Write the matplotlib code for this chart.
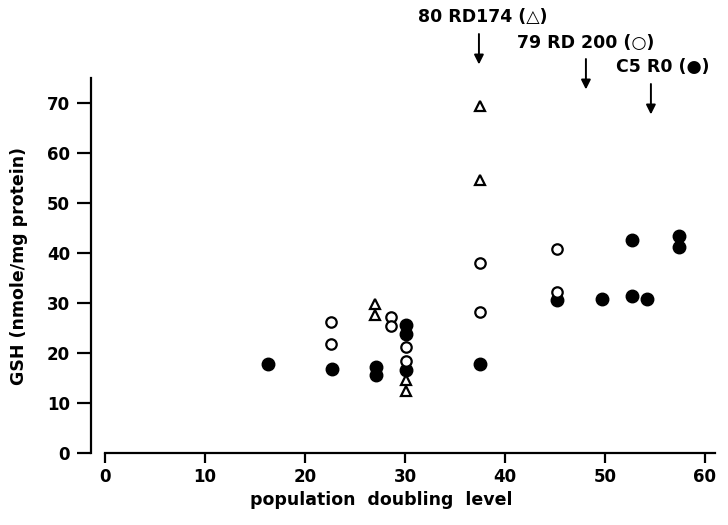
import numpy as np
import matplotlib
matplotlib.use('Agg')
import matplotlib.pyplot as plt

# 데이터
# C5 R0 (채운 원)
c5_x = [16.3, 22.7, 27.1, 27.1, 30.1, 30.1, 30.1, 37.5, 45.2, 49.7, 52.7, 52.7, 54.2, 57.4, 57.4]
c5_y = [17.8, 16.8, 17.2, 15.6, 25.7, 23.8, 16.6, 17.8, 30.6, 30.8, 42.6, 31.4, 30.8, 43.4, 41.2]

# 79 RD 200 (빈 원)
rd200_x = [22.6, 22.6, 28.6, 28.6, 30.1, 30.1, 37.5, 37.5, 45.2, 45.2]
rd200_y = [26.2, 21.8, 27.2, 25.4, 21.2, 18.4, 38.1, 28.3, 40.9, 32.2]

# 80 RD174 (삼각형)
rd174_x = [27.0, 27.0, 30.1, 30.1, 37.5, 37.5]
rd174_y = [29.8, 27.7, 14.7, 12.4, 69.5, 54.6]

tick_x = [0, 10, 20, 30, 40, 50, 60]
tick_y = [0, 10, 20, 30, 40, 50, 60, 70]

# 화살표 라벨: 텍스트, 화살표 x, 끝 y, 텍스트 위치
labels = ['80 RD174 (△)', '79 RD 200 (○)', 'C5 R0 (●)']
arrow_x = [37.4, 48.1, 54.6]
arrow_tip = [77.2, 72.2, 67.2]
text_y = [87.3, 82.1, 77.2]
text_x = [37.8, 48.1, 55.8]

plt.rcParams['font.family'] = ['DejaVu Sans']

fig = plt.figure(figsize=(7.28, 5.25), dpi=100)
ax = fig.add_axes([0.125, 0.137, 0.857, 0.714])

ax.plot(c5_x, c5_y, 'o', color='black', markersize=9, linestyle='none', zorder=3)
ax.plot(rd200_x, rd200_y, 'o', markerfacecolor='white', markeredgecolor='black',
        markeredgewidth=1.6, markersize=7.5, linestyle='none', zorder=3)
ax.plot(rd174_x, rd174_y, '^', markerfacecolor='white', markeredgecolor='black',
        markeredgewidth=1.6, markersize=7, linestyle='none', zorder=3)

ax.set_xlim(-1.4, 61)
ax.set_ylim(0, 75)

for s in ['top', 'right']:
    ax.spines[s].set_visible(False)
ax.spines['bottom'].set_bounds(0, 61)
ax.spines['left'].set_bounds(0, 75)
ax.spines['bottom'].set_linewidth(1.6)
ax.spines['left'].set_linewidth(1.6)

ax.set_xticks(tick_x)
ax.set_yticks(tick_y)
ax.tick_params(axis='x', direction='out', length=7, width=1.6, labelsize=12, pad=4)
ax.tick_params(axis='y', direction='out', length=10, width=1.6, labelsize=12, pad=5)
for t in ax.get_xticklabels() + ax.get_yticklabels():
    t.set_fontweight('semibold')

ax.set_xlabel('population  doubling  level', fontsize=12.5, fontweight='semibold')
ax.xaxis.set_label_coords(0.465, -0.10)
ax.set_ylabel('GSH (nmole/mg protein)', fontsize=12.5, fontweight='semibold', labelpad=14)

for lab, ax_x, tip, ty, tx in zip(labels, arrow_x, arrow_tip, text_y, text_x):
    ax.annotate('', xy=(ax_x, tip), xytext=(ax_x, tip + 7.2),
                arrowprops=dict(arrowstyle='-|>', color='black', lw=1.4, mutation_scale=14),
                annotation_clip=False)
    ax.text(tx, ty, lab, fontsize=12.5, fontweight='semibold', ha='center', va='center',
            clip_on=False)

fig.savefig('out.png', dpi=100)
